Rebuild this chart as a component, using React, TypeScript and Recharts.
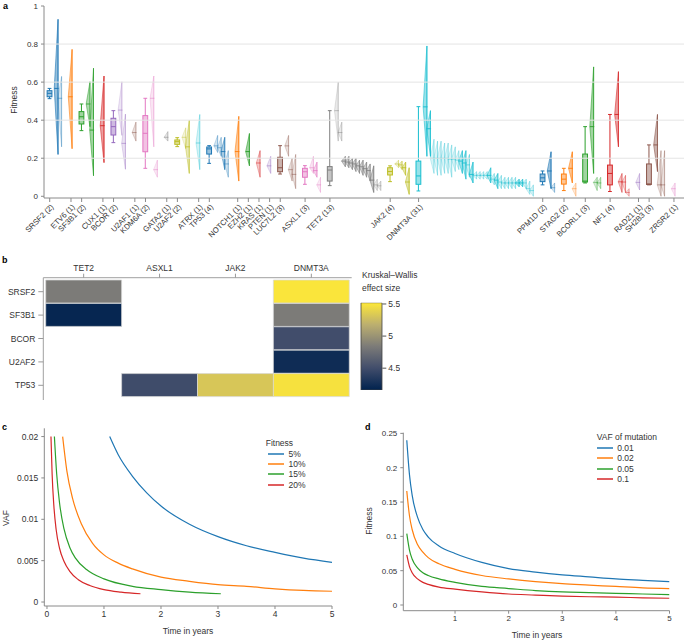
import React from 'react';
import { ComposedChart, BarChart, LineChart, Bar, Line, XAxis, YAxis, ReferenceLine, Cell } from 'recharts';

const FONT = '"Liberation Sans", Arial, Helvetica, sans-serif';
const TAB10 = ['#1f77b4', '#ff7f0e', '#2ca02c', '#d62728', '#9467bd', '#8c564b', '#e377c2', '#7f7f7f', '#bcbd22', '#17becf'];
const AXIS = '#8a8a8a';
const TXT = '#333';

// ---------------- Panel a data ----------------
const geneNames = ['SRSF2', 'ETV6', 'SF3B1', 'CUX1', 'BCOR', 'U2AF1', 'KDM6A', 'GATA2', 'U2AF2', 'ATRX', 'TP53', 'NOTCH1', 'EZH2', 'KRAS', 'PTEN', 'LUC7L2', 'ASXL1', 'TET2', 'JAK2', 'DNMT3A', 'PPM1D', 'STAG2', 'BCORL1', 'NF1', 'RAD21', 'SH2B3', 'ZRSR2'];
const patientCounts = [2, 1, 2, 1, 2, 1, 2, 1, 2, 1, 4, 1, 1, 1, 1, 3, 3, 13, 4, 31, 2, 2, 3, 4, 1, 3, 1];
// [whiskerLow, q1, median, q3, whiskerHigh]
const geneBoxes: (number[] | null)[] = [
  [0.513, 0.523, 0.541, 0.555, 0.567], null, [0.345, 0.38, 0.418, 0.445, 0.485], null,
  [0.282, 0.322, 0.366, 0.41, 0.45], null, [0.147, 0.234, 0.331, 0.424, 0.515], null,
  [0.261, 0.273, 0.287, 0.296, 0.308], null, [0.173, 0.222, 0.249, 0.259, 0.266], null, null, null, null,
  [0.117, 0.129, 0.15, 0.205, 0.266], [0.063, 0.1, 0.129, 0.147, 0.161], [0.056, 0.08, 0.138, 0.156, 0.45],
  [0.077, 0.112, 0.13, 0.15, 0.16], [0.028, 0.063, 0.107, 0.185, 0.471], [0.06, 0.077, 0.097, 0.117, 0.133],
  [0.03, 0.064, 0.09, 0.117, 0.147], [0.07, 0.075, 0.08, 0.222, 0.366], [0.025, 0.06, 0.12, 0.164, 0.43], null,
  [0.06, 0.062, 0.065, 0.17, 0.27], null,
];
// per gene, per patient: [low, median, high]
const patientViolins: number[][][] = [
  [[0.22, 0.567, 0.93], [0.26, 0.515, 0.63]],
  [[0.25, 0.523, 0.772]],
  [[0.366, 0.485, 0.602], [0.108, 0.348, 0.673]],
  [[0.177, 0.371, 0.632]],
  [[0.32, 0.453, 0.602], [0.142, 0.278, 0.432]],
  [[0.29, 0.335, 0.39]],
  [[0.26, 0.515, 0.632], [0.1, 0.14, 0.19]],
  [[0.29, 0.31, 0.34]],
  [[0.25, 0.31, 0.36], [0.12, 0.26, 0.4]],
  [[0.14, 0.28, 0.43]],
  [[0.23, 0.265, 0.32], [0.21, 0.255, 0.31], [0.14, 0.235, 0.31], [0.1, 0.17, 0.24]],
  [[0.08, 0.235, 0.42]],
  [[0.16, 0.235, 0.33]],
  [[0.1, 0.175, 0.24]],
  [[0.12, 0.16, 0.21]],
  [[0.21, 0.265, 0.32], [0.08, 0.14, 0.2], [0.04, 0.115, 0.22]],
  [[0.12, 0.15, 0.21], [0.1, 0.135, 0.18], [0.02, 0.06, 0.1]],
  [[0.29, 0.45, 0.6], [0.29, 0.335, 0.39], [0.155, 0.185, 0.21], [0.15, 0.18, 0.21], [0.14, 0.175, 0.2], [0.13, 0.17, 0.2], [0.12, 0.16, 0.19], [0.11, 0.155, 0.19], [0.1, 0.145, 0.18], [0.08, 0.135, 0.17], [0.02, 0.085, 0.16], [0.03, 0.06, 0.09], [0.03, 0.055, 0.08]],
  [[0.15, 0.17, 0.19], [0.14, 0.165, 0.185], [0.11, 0.15, 0.18], [0.01, 0.075, 0.15]],
  [[0.21, 0.47, 0.79], [0.21, 0.355, 0.45], [0.12, 0.2, 0.3], [0.11, 0.2, 0.29], [0.11, 0.2, 0.29], [0.12, 0.2, 0.28], [0.12, 0.2, 0.28], [0.1, 0.195, 0.27], [0.13, 0.195, 0.26], [0.14, 0.19, 0.24],
   [0.12, 0.185, 0.24], [0.09, 0.175, 0.24], [0.1, 0.165, 0.22], [0.07, 0.115, 0.18], [0.09, 0.11, 0.13], [0.09, 0.11, 0.13], [0.09, 0.11, 0.13], [0.09, 0.11, 0.13], [0.07, 0.11, 0.15], [0.06, 0.09, 0.12],
   [0.04, 0.085, 0.12], [0.04, 0.075, 0.11], [0.04, 0.07, 0.1], [0.04, 0.07, 0.1], [0.04, 0.07, 0.1], [0.04, 0.07, 0.1], [0.05, 0.07, 0.09], [0.05, 0.07, 0.09], [0.04, 0.07, 0.09], [0.01, 0.04, 0.08], [0.0, 0.03, 0.06]],
  [[0.04, 0.133, 0.234], [0.02, 0.045, 0.07]],
  [[0.07, 0.147, 0.234], [0.0, 0.04, 0.07]],
  [[0.12, 0.366, 0.68], [0.03, 0.073, 0.1], [0.04, 0.07, 0.1]],
  [[0.26, 0.43, 0.655], [0.02, 0.076, 0.12], [0.02, 0.075, 0.11], [0.0, 0.02, 0.04]],
  [[0.033, 0.073, 0.12]],
  [[0.13, 0.27, 0.43], [0.0, 0.06, 0.24], [0.0, 0.06, 0.24]],
  [[0.0, 0.04, 0.07]],
];
// style: opacity of each patient violin
const violinAlpha: number[][] = [
  [0.85, 0.35], [0.8], [0.7, 0.8], [0.8], [0.3, 0.35], [0.35], [0.35, 0.3], [0.35], [0.3, 0.6], [0.35],
  [0.35, 0.35, 0.7, 0.35], [0.8], [0.8], [0.45], [0.35], [0.35, 0.35, 0.35], [0.35, 0.6, 0.3],
  [0.3, 0.3, 0.7, 0.7, 0.7, 0.7, 0.7, 0.7, 0.7, 0.7, 0.8, 0.3, 0.3],
  [0.35, 0.5, 0.7, 0.7],
  [0.8, 0.8, 0.3, 0.3, 0.3, 0.3, 0.3, 0.3, 0.3, 0.3, 0.7, 0.7, 0.4, 0.75, 0.3, 0.3, 0.3, 0.3, 0.7, 0.35, 0.7, 0.35, 0.35, 0.35, 0.35, 0.35, 0.7, 0.7, 0.35, 0.3, 0.3],
  [0.8, 0.35], [0.8, 0.3], [0.8, 0.35, 0.35], [0.8, 0.5, 0.4, 0.3], [0.35], [0.8, 0.35, 0.35], [0.3],
];
const fitnessTicks = [0, 0.2, 0.4, 0.6, 0.8, 1];
const fitnessGrid = [0.2, 0.4, 0.6, 0.8];

// ---------------- Panel b data ----------------
const heatRows = ['SRSF2', 'SF3B1', 'BCOR', 'U2AF2', 'TP53'];
const heatCols = ['TET2', 'ASXL1', 'JAK2', 'DNMT3A'];
const effectTET2 = [4.84, 4.19, null, null, null];
const effectASXL1 = [null, null, null, null, 4.49];
const effectJAK2 = [null, null, null, null, 5.32];
const effectDNMT3A = [5.5, 4.84, 4.5, 4.24, 5.48];
const effectRange = [4.16, 5.52];
const colorbarTicks = [4.5, 5, 5.5];

// ---------------- Panel c data (time in years, VAF) ----------------
const vafFitness5 = [[1.1, 0.02], [1.25, 0.0178], [1.5, 0.0152], [1.75, 0.0132], [2, 0.0116], [2.5, 0.0094], [3, 0.0079], [3.5, 0.0068], [4, 0.006], [4.5, 0.0053], [5, 0.0048]];
const vafFitness10 = [[0.275, 0.02], [0.35, 0.0158], [0.45, 0.0125], [0.6, 0.0095], [0.8, 0.0071], [1, 0.0057], [1.25, 0.0047], [1.5, 0.004], [2, 0.003], [2.5, 0.0025], [3, 0.0021], [3.5, 0.0019], [4, 0.0016], [4.5, 0.0014], [5, 0.0013]];
const vafFitness15 = [[0.13, 0.02], [0.17, 0.0155], [0.22, 0.012], [0.3, 0.0088], [0.4, 0.0066], [0.5, 0.0053], [0.7, 0.0039], [1, 0.0028], [1.5, 0.0019], [2, 0.0015], [2.5, 0.0012], [3.05, 0.001]];
const vafFitness20 = [[0.07, 0.02], [0.09, 0.0155], [0.12, 0.0117], [0.16, 0.0088], [0.22, 0.0065], [0.3, 0.0049], [0.4, 0.0037], [0.55, 0.0027], [0.75, 0.002], [1, 0.0015], [1.3, 0.0012], [1.64, 0.001]];
const fitnessLabels = ['5%', '10%', '15%', '20%'];
const vafTicks = [0, 0.005, 0.01, 0.015, 0.02];
const yearTicksC = [0, 1, 2, 3, 4, 5];

// ---------------- Panel d data (time in years, fitness) ----------------
const fitVaf001 = [[0.1, 0.24], [0.15, 0.19], [0.2, 0.16], [0.3, 0.128], [0.4, 0.11], [0.5, 0.099], [0.7, 0.086], [1, 0.075], [1.5, 0.062], [2, 0.053], [2.5, 0.048], [3, 0.044], [3.5, 0.041], [4, 0.038], [4.5, 0.036], [5, 0.034]];
const fitVaf002 = [[0.1, 0.166], [0.15, 0.13], [0.2, 0.11], [0.3, 0.088], [0.4, 0.077], [0.5, 0.069], [0.7, 0.06], [1, 0.052], [1.5, 0.043], [2, 0.038], [2.5, 0.034], [3, 0.031], [3.5, 0.029], [4, 0.027], [4.5, 0.025], [5, 0.024]];
const fitVaf005 = [[0.1, 0.104], [0.15, 0.08], [0.2, 0.067], [0.3, 0.054], [0.4, 0.047], [0.5, 0.043], [0.7, 0.038], [1, 0.033], [1.5, 0.027], [2, 0.024], [2.5, 0.021], [3, 0.019], [3.5, 0.018], [4, 0.017], [4.5, 0.016], [5, 0.015]];
const fitVaf01 = [[0.1, 0.073], [0.15, 0.056], [0.2, 0.047], [0.3, 0.038], [0.4, 0.033], [0.5, 0.03], [0.7, 0.026], [1, 0.023], [1.5, 0.019], [2, 0.016], [2.5, 0.0145], [3, 0.013], [3.5, 0.012], [4, 0.0115], [4.5, 0.0105], [5, 0.0098]];
const vafLabels = ['0.01', '0.02', '0.05', '0.1'];
const fitTicksD = [0, 0.05, 0.1, 0.15, 0.2, 0.25];
const yearTicksD = [1, 2, 3, 4, 5];

const LINE_COLORS = ['#1f77b4', '#ff7f0e', '#2ca02c', '#d62728'];

// ---------------- helpers ----------------
const CIVIDIS = ['#00224e', '#414d6b', '#7c7b78', '#bcaf6f', '#fee838'];
function hexRgb(h: string) {
  return [parseInt(h.slice(1, 3), 16), parseInt(h.slice(3, 5), 16), parseInt(h.slice(5, 7), 16)];
}
function cividis(t: number) {
  const c = Math.max(0, Math.min(1, t)) * (CIVIDIS.length - 1);
  const i = Math.min(CIVIDIS.length - 2, Math.floor(c));
  const f = c - i;
  const a = hexRgb(CIVIDIS[i]);
  const b = hexRgb(CIVIDIS[i + 1]);
  const m = a.map((v, k) => Math.round(v + (b[k] - v) * f));
  return `rgb(${m[0]},${m[1]},${m[2]})`;
}

// gene slot positions (category layout)
const genePositions: number[] = [];
{
  let p = 0;
  patientCounts.forEach((n) => {
    genePositions.push(p);
    p += 1 + (n >= 2 ? (n + 1) / 3 : 0);
  });
}

const marks: any[] = [];
geneNames.forEach((g, i) => {
  const p = genePositions[i];
  const color = TAB10[i % 10];
  const box = geneBoxes[i];
  if (box) {
    marks.push({ x: p, range: [box[0], box[4]], kind: 'box', q1: box[1], med: box[2], q3: box[3], color });
  }
  patientViolins[i].forEach((v, k) => {
    const x = patientCounts[i] >= 2 ? p + 0.8 + k / 3 : p + 0.12;
    marks.push({ x, range: [v[0], v[2]], kind: 'violin', med: v[1], color, alpha: violinAlpha[i][k] });
  });
});

const renderMark = (props: any) => {
  const { x, y, width, height, payload } = props;
  if (x == null || y == null || !payload) return <g />;
  const cx = x + width / 2;
  const top = Math.min(y, y + height);
  const bot = Math.max(y, y + height);
  const [lo, hi] = payload.range;
  const toPx = (v: number) => (hi === lo ? top : top + ((hi - v) / (hi - lo)) * (bot - top));
  const c = payload.color;
  if (payload.kind === 'box') {
    const yq3 = toPx(payload.q3);
    const yq1 = toPx(payload.q1);
    const ym = toPx(payload.med);
    return (
      <g>
        <line x1={cx} x2={cx} y1={top} y2={bot} stroke={c} strokeWidth={1} />
        <line x1={cx - 1.9} x2={cx + 1.9} y1={top} y2={top} stroke={c} strokeWidth={1} />
        <line x1={cx - 1.9} x2={cx + 1.9} y1={bot} y2={bot} stroke={c} strokeWidth={1} />
        <rect x={cx - 2.4} y={yq3} width={4.8} height={Math.max(0.5, yq1 - yq3)} fill="#fff" stroke="none" />
        <rect x={cx - 2.4} y={yq3} width={4.8} height={Math.max(0.5, yq1 - yq3)} fill={c} fillOpacity={0.45} stroke={c} strokeWidth={1} />
        <line x1={cx - 2.4} x2={cx + 2.4} y1={ym} y2={ym} stroke={c} strokeWidth={1} />
      </g>
    );
  }
  const w = 3.8;
  const ym = toPx(payload.med);
  const a = payload.alpha;
  const d = `M${cx},${top} L${cx - w},${ym} L${cx},${bot} Z`;
  return (
    <g>
      <path d={d} fill={c} fillOpacity={a * 0.55} stroke={c} strokeOpacity={a} strokeWidth={0.7} />
      <line x1={cx} x2={cx} y1={top} y2={bot} stroke={c} strokeOpacity={a} strokeWidth={0.9} />
      <line x1={cx - w} x2={cx + 0.6} y1={ym} y2={ym} stroke={c} strokeOpacity={Math.min(1, a + 0.15)} strokeWidth={1} />
    </g>
  );
};

const GeneTick = (props: any) => {
  const { x, y, payload } = props;
  let idx = 0;
  let best = Infinity;
  genePositions.forEach((p, i) => {
    const dd = Math.abs(p - payload.value);
    if (dd < best) { best = dd; idx = i; }
  });
  const label = `${geneNames[idx]} (${patientCounts[idx]})`;
  return (
    <g transform={`translate(${x + 2.5},${y + 1.5})`}>
      <text textAnchor="end" transform="rotate(-45)" fontSize={7.7} fill={TXT} fontFamily={FONT} dy="0.35em">
        {label}
      </text>
    </g>
  );
};

const fmtNum = (v: number) => String(Number(v.toFixed(4)));

const tickStyle = (size: number) => ({ fontSize: size, fill: TXT, fontFamily: FONT });

const Txt = ({ x, y, children, size = 8.5, anchor = 'center', rotate = false, bold = false }: any) => {
  const tx = anchor === 'center' ? '-50%' : anchor === 'end' ? '-100%' : '0';
  return (
    <div
      style={{
        position: 'absolute', left: x, top: y, whiteSpace: 'nowrap', fontSize: size, lineHeight: 1,
        fontFamily: FONT, color: bold ? '#000' : TXT, fontWeight: bold ? 700 : 400,
        transform: `translate(${tx},-50%)${rotate ? ' rotate(-90deg)' : ''}`, transformOrigin: rotate ? '50% 50%' : undefined,
      }}
    >
      {children}
    </div>
  );
};

const LegendBox = ({ x, y, title, labels, step, lineW, gap, indent }: any) => (
  <div style={{ position: 'absolute', left: x, top: y, fontFamily: FONT, color: TXT }}>
    <div style={{ position: 'absolute', left: 0, top: 0, fontSize: 8.5, lineHeight: '10px', whiteSpace: 'nowrap' }}>{title}</div>
    {labels.map((l: string, i: number) => (
      <div key={l} style={{ position: 'absolute', left: indent, top: 11 + i * step, height: 10, whiteSpace: 'nowrap' }}>
        <svg width={lineW} height={10} style={{ position: 'absolute', left: 0, top: 0 }}>
          <line x1={0} x2={lineW} y1={5} y2={5} stroke={LINE_COLORS[i]} strokeWidth={1.5} />
        </svg>
        <div style={{ position: 'absolute', left: lineW + gap, top: 0, fontSize: 8.5, lineHeight: '10px' }}>{l}</div>
      </div>
    ))}
  </div>
);

const toPts = (arr: number[][]) => arr.map(([t, v]) => ({ t, v }));

export default function App() {
  const heatData = heatRows.map((row, i) => ({
    row,
    TET2: effectTET2[i], ASXL1: effectASXL1[i], JAK2: effectJAK2[i], DNMT3A: effectDNMT3A[i],
    u0: 1, u1: 1, u2: 1, u3: 1,
  }));
  const cbData = [{ k: 'cb', range: effectRange }];
  const cLines = [vafFitness5, vafFitness10, vafFitness15, vafFitness20];
  const dLines = [fitVaf001, fitVaf002, fitVaf005, fitVaf01];

  return (
    <div style={{ position: 'absolute', left: 0, top: 0, width: 685, height: 640, background: '#fff', overflow: 'hidden', fontFamily: FONT }}>
      {/* ---------- panel a ---------- */}
      <div style={{ position: 'absolute', left: 0, top: 0 }}>
        <ComposedChart width={685} height={250} data={marks} margin={{ top: 6, right: 1, bottom: 0, left: 0 }}>
          {fitnessGrid.map((v) => (
            <ReferenceLine key={v} y={v} stroke="#e4e4e4" strokeWidth={1} />
          ))}
          <XAxis
            dataKey="x" type="number" domain={[-0.536, 59.61]} allowDataOverflow ticks={genePositions}
            interval={0} height={52} tick={<GeneTick />} tickSize={4} tickLine={{ stroke: AXIS }}
            axisLine={{ stroke: AXIS }}
          />
          <YAxis
            type="number" domain={[-0.009, 1]} allowDataOverflow ticks={fitnessTicks} width={44}
            tickFormatter={fmtNum} tick={tickStyle(8)} tickSize={3} tickMargin={3}
            tickLine={{ stroke: AXIS }} axisLine={{ stroke: AXIS }}
          />
          <Bar dataKey="range" barSize={4} isAnimationActive={false} shape={renderMark} />
        </ComposedChart>
      </div>
      <Txt x={3} y={6} size={9} anchor="start" bold>a</Txt>
      <Txt x={14} y={100} size={8.5} rotate>Fitness</Txt>

      {/* ---------- panel b ---------- */}
      <div style={{ position: 'absolute', left: 0, top: 255 }}>
        <BarChart width={360} height={150} data={heatData} layout="vertical" barCategoryGap={0} margin={{ top: 0, right: 8.3, bottom: 5, left: 0 }}>
          <XAxis
            xAxisId="top" orientation="top" type="number" domain={[-0.032, 4.032]} allowDataOverflow
            ticks={[0.5, 1.5, 2.5, 3.5]} tickFormatter={(v: number) => heatCols[Math.floor(v)]}
            height={22.7} tick={tickStyle(8.5)} tickSize={4} tickMargin={3}
            tickLine={{ stroke: '#999' }} axisLine={{ stroke: '#a0a0a0' }}
          />
          <XAxis xAxisId="bot" orientation="bottom" type="number" domain={[-0.032, 4.032]} height={0} tick={false} tickLine={false} axisLine={{ stroke: '#a0a0a0' }} />
          <YAxis
            yAxisId="l" type="category" dataKey="row" width={43.3} padding={{ top: 2.3, bottom: 3 }}
            tick={tickStyle(8.5)} tickSize={5} tickMargin={3} tickLine={{ stroke: '#999' }} axisLine={{ stroke: '#a0a0a0' }}
          />
          <YAxis yAxisId="r" orientation="right" type="category" dataKey="row" width={0} padding={{ top: 2.3, bottom: 3 }} tick={false} tickLine={false} axisLine={{ stroke: '#a0a0a0' }} />
          {heatCols.map((col, ci) => (
            <Bar key={col} dataKey={`u${ci}`} stackId="h" xAxisId="top" yAxisId="l" isAnimationActive={false}>
              {heatData.map((d: any, ri) => {
                const v = d[col];
                return (
                  <Cell
                    key={ri}
                    fill={v == null ? 'none' : cividis((v - effectRange[0]) / (effectRange[1] - effectRange[0]))}
                    stroke={v == null ? 'none' : '#d8d8d8'}
                    strokeWidth={0.7}
                  />
                );
              })}
            </Bar>
          ))}
        </BarChart>
      </div>
      <Txt x={2} y={260} size={9} anchor="start" bold>b</Txt>
      <Txt x={362} y={275} size={8.5} anchor="start">Kruskal–Wallis</Txt>
      <Txt x={362} y={287.5} size={8.5} anchor="start">effect size</Txt>
      <div style={{ position: 'absolute', left: 340, top: 290 }}>
        <BarChart width={60} height={105} data={cbData} barCategoryGap={0} margin={{ top: 12.7, right: 0, bottom: 5, left: 21 }}>
          <defs>
            <linearGradient id="cividisGrad" x1="0" y1="1" x2="0" y2="0">
              {CIVIDIS.map((c, i) => (
                <stop key={i} offset={i / (CIVIDIS.length - 1)} stopColor={c} />
              ))}
            </linearGradient>
          </defs>
          <XAxis dataKey="k" hide />
          <YAxis
            orientation="right" type="number" domain={effectRange} allowDataOverflow ticks={colorbarTicks}
            width={17.7} tickFormatter={fmtNum} tick={tickStyle(8.5)} tickSize={4} tickMargin={2}
            tickLine={{ stroke: '#555' }} axisLine={false}
          />
          <Bar dataKey="range" fill="url(#cividisGrad)" stroke="#444" strokeWidth={0.8} isAnimationActive={false} />
        </BarChart>
      </div>

      {/* ---------- panel c ---------- */}
      <div style={{ position: 'absolute', left: 0, top: 420 }}>
        <LineChart width={345} height={220} margin={{ top: 8.3, right: 13, bottom: 0, left: 0 }}>
          <XAxis
            dataKey="t" type="number" domain={[-0.047, 5]} allowDataOverflow ticks={yearTicksC} height={34}
            tick={tickStyle(8.5)} tickSize={3} tickMargin={2} tickLine={{ stroke: AXIS }} axisLine={{ stroke: AXIS }}
          />
          <YAxis
            type="number" domain={[-0.00048, 0.021]} allowDataOverflow ticks={vafTicks} width={44.3}
            tickFormatter={fmtNum} tick={tickStyle(8.5)} tickSize={3} tickMargin={3}
            tickLine={{ stroke: AXIS }} axisLine={{ stroke: AXIS }}
          />
          {cLines.map((arr, i) => (
            <Line key={i} data={toPts(arr)} dataKey="v" type="monotone" stroke={LINE_COLORS[i]} strokeWidth={1.2} dot={false} isAnimationActive={false} />
          ))}
        </LineChart>
      </div>
      <Txt x={2} y={427} size={9} anchor="start" bold>c</Txt>
      <Txt x={6} y={518} size={8.5} rotate>VAF</Txt>
      <Txt x={188} y={631} size={8.5}>Time in years</Txt>
      <LegendBox x={265.7} y={437.5} title="Fitness" labels={fitnessLabels} step={10.4} lineW={16} gap={4.5} indent={2.3} />

      {/* ---------- panel d ---------- */}
      <div style={{ position: 'absolute', left: 340, top: 420 }}>
        <LineChart width={345} height={220} margin={{ top: 12.7, right: 15.5, bottom: 0, left: 0 }}>
          <XAxis
            dataKey="t" type="number" domain={[0.035, 5]} allowDataOverflow ticks={yearTicksD} height={29.3}
            tick={tickStyle(8)} tickSize={3} tickMargin={2} tickLine={{ stroke: AXIS }} axisLine={{ stroke: AXIS }}
          />
          <YAxis
            type="number" domain={[-0.0083, 0.251]} allowDataOverflow ticks={fitTicksD} width={63.3}
            tickFormatter={fmtNum} tick={tickStyle(8)} tickSize={3} tickMargin={3}
            tickLine={{ stroke: AXIS }} axisLine={{ stroke: AXIS }}
          />
          {dLines.map((arr, i) => (
            <Line key={i} data={toPts(arr)} dataKey="v" type="monotone" stroke={LINE_COLORS[i]} strokeWidth={1.2} dot={false} isAnimationActive={false} />
          ))}
        </LineChart>
      </div>
      <Txt x={365} y={427} size={9} anchor="start" bold>d</Txt>
      <Txt x={369} y={521} size={8.5} rotate>Fitness</Txt>
      <Txt x={537} y={635} size={8.5}>Time in years</Txt>
      <LegendBox x={596.7} y={432} title="VAF of mutation" labels={vafLabels} step={10.4} lineW={16} gap={4.5} indent={0} />
    </div>
  );
}
